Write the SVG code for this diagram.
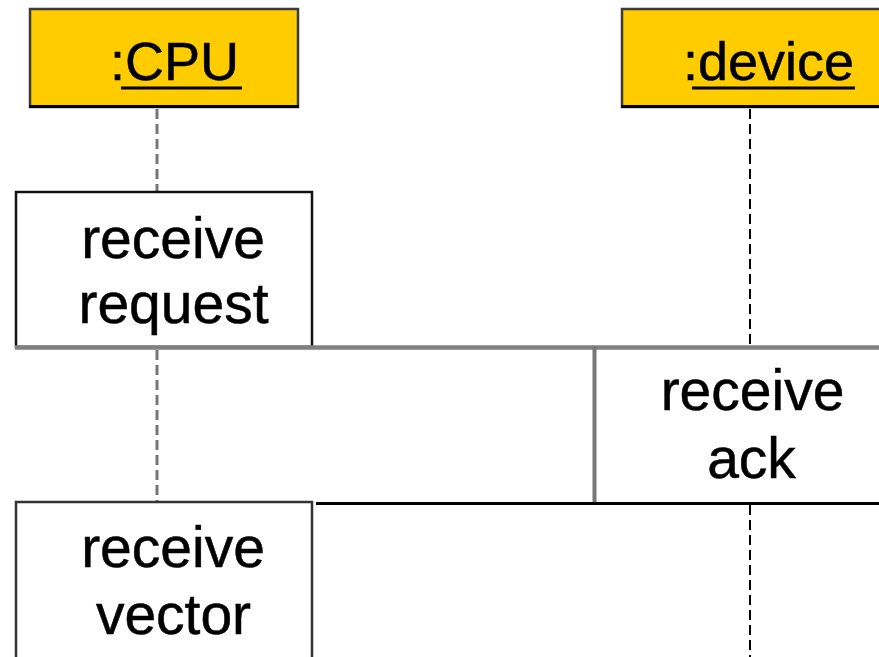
<svg xmlns="http://www.w3.org/2000/svg" width="879" height="657" viewBox="0 0 879 657">
<style>
  .t { font-family: "Liberation Sans", Arial, sans-serif; font-size: 57px; fill: #000; stroke: #000; stroke-width: 0.5; text-anchor: middle; }
  .h { font-size: 54px; }
  .head { fill: #FFCC00; stroke: #3a3a3a; stroke-width: 2.5; }
  .act { fill: #fff; stroke: #111; stroke-width: 2.5; }
  .life-cpu { stroke: #777; stroke-width: 3; stroke-dasharray: 10 5; fill: none; }
  .life-dev { stroke: #000; stroke-width: 2; stroke-dasharray: 10 5; fill: none; }
</style>
<rect width="879" height="657" fill="#fff"/>
<g id="connectors">
  <line class="life-cpu" x1="157" y1="109" x2="157" y2="191"/>
  <line class="life-cpu" x1="157" y1="350" x2="157" y2="501"/>
  <line class="life-dev" x1="750" y1="109" x2="750" y2="346"/>
  <line class="life-dev" x1="750" y1="505" x2="750" y2="657"/>
</g>
<g id="cpu">
  <rect class="head" x="30" y="9" width="268" height="98"/>
  <line x1="29" y1="106.5" x2="299" y2="106.5" stroke="#000" stroke-width="3"/>
  <text class="t h" x="174.5" y="80">:CPU</text>
  <line x1="121" y1="88" x2="242" y2="88" stroke="#000" stroke-width="3"/>
</g>
<g id="device">
  <rect class="head" x="622" y="9" width="280" height="98"/>
  <line x1="621" y1="106.5" x2="879" y2="106.5" stroke="#000" stroke-width="3"/>
  <text class="t h" x="768.5" y="80">:device</text>
  <line x1="692" y1="88" x2="855" y2="88" stroke="#000" stroke-width="3"/>
</g>
<g id="receive-request">
  <rect class="act" x="16" y="192" width="296" height="155"/>
  <line x1="15" y1="347.5" x2="879" y2="347.5" stroke="#808080" stroke-width="4.5"/>
  <text class="t" x="173" y="258">receive</text>
  <text class="t" x="173.5" y="323">request</text>
</g>
<g id="receive-ack">
  <line x1="594.5" y1="346" x2="594.5" y2="503" stroke="#777" stroke-width="4"/>
  <line x1="316" y1="503.5" x2="879" y2="503.5" stroke="#000" stroke-width="3"/>
  <text class="t" x="752.5" y="410">receive</text>
  <text class="t" x="751.5" y="478">ack</text>
</g>
<g id="receive-vector">
  <rect class="act" x="16" y="502" width="296" height="175" style="stroke:#333"/>
  <text class="t" x="173" y="567">receive</text>
  <text class="t" x="173.5" y="634">vector</text>
</g>
</svg>
